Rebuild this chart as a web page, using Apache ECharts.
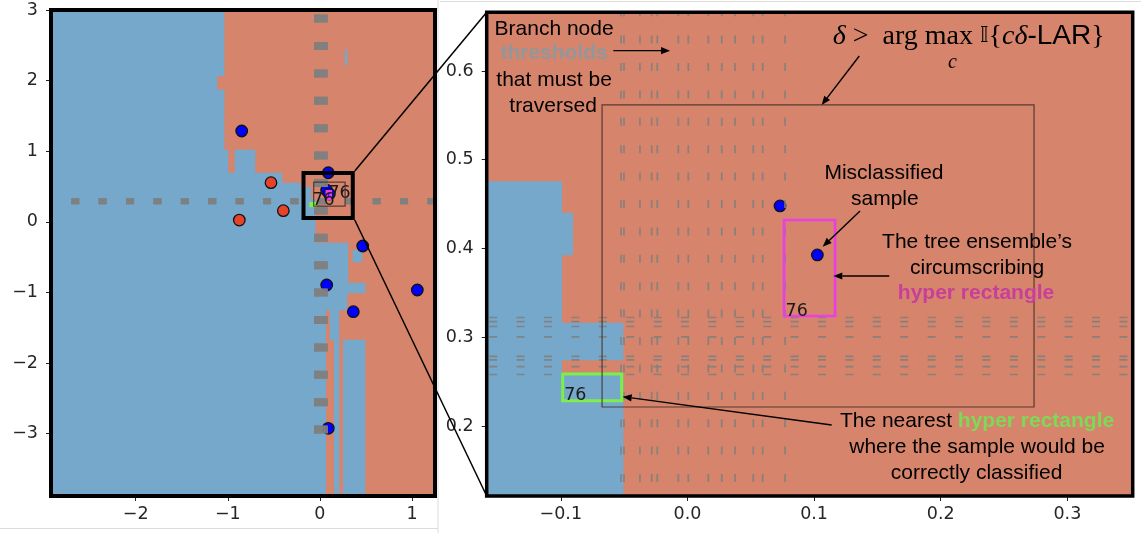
<!DOCTYPE html>
<html>
<head>
<meta charset="utf-8">
<script src="https://cdn.jsdelivr.net/npm/echarts@6.0.0/dist/echarts.min.js"></script>
<style>
html,body{margin:0;padding:0;background:#ffffff;}
#chart{width:1141px;height:533px;}
</style>
</head>
<body>
<div id="chart"></div>
<script>
// ---------------- data ----------------
const leftXTicks = [-2, -1, 0, 1];
const leftYTicks = [-3, -2, -1, 0, 1, 2, 3];
const rightXTicks = [-0.1, 0.0, 0.1, 0.2, 0.3];
const rightYTicks = [0.2, 0.3, 0.4, 0.5, 0.6];

// cells predicted as the blue class, [x0, x1, y0, y1]; the rest is the red class
const leftBlueRegions = [
  [-2.92, -1.117, -3.884, 3.0],
  [-1.117, -1.041, 2.068, 3.0],
  [-1.117, -1.041, -3.884, 1.867],
  [-1.041, -0.998, -3.884, 1.017],
  [-0.922, -0.705, 0.691, 1.017],
  [-1.041, -0.412, -3.884, 0.691],
  [-0.412, -0.216, -3.884, 0.55],
  [-0.216, -0.099, -3.884, 0.493],
  [-0.099, -0.051, 0.274, 0.316],
  [-0.099, -0.051, -3.884, 0.26],
  [-0.051, 0.305, -0.966, -0.3],
  [0.359, 0.457, -0.57, -0.399],
  [-0.051, 0.49, -1.008, -0.867],
  [-0.051, 0.294, -1.249, -1.008],
  [-0.051, 0.063, -3.884, -1.249],
  [0.156, 0.207, -3.884, -1.249],
  [0.11, 0.156, -1.674, -1.249],
  [0.254, 0.49, -3.884, -1.674],
  [0.273, 0.294, 2.221, 2.433]
];
const rightBlueRegions = [
  [-0.1585, -0.0993, 0.1211, 0.4753],
  [-0.0993, -0.0906, 0.3927, 0.44],
  [-0.0993, -0.0508, 0.2744, 0.3161],
  [-0.0993, -0.0508, 0.1211, 0.2597]
];

// branch node thresholds
const thresholdsX = [-0.0524, -0.0501, -0.0375, -0.0282, -0.0238, -0.0072, 0.0007, 0.0165, 0.0271, 0.0376, 0.052, 0.0594, 0.0771];
const thresholdsY = [0.2580, 0.2668, 0.2744, 0.2785, 0.3003, 0.3121, 0.3175, 0.3222];

const blueSamples = [
  [-0.849, 1.286], [0.091, 0.695], [0.0731, 0.4479], [0.1026, 0.3927], [0.465, -0.343],
  [0.074, -0.895], [0.363, -1.273], [1.058, -0.966], [0.091, -2.925]
];
const redSamples = [[-0.531, 0.554], [-0.397, 0.157], [-0.875, 0.025]];

const circumscribingRect = [0.0763, 0.1166, 0.3239, 0.4321];
const nearestRect = [-0.0985, -0.0519, 0.2285, 0.2586];
const deltaRect = [-0.0674, 0.2737, 0.2214, 0.5617];
const zoomBox = [-0.178, 0.357, 0.054, 0.691];
const rectLabel = '76';

// ---------------- layout / styles ----------------
const L = {x: [-2.92, 1.25], y: [-3.884, 3.0]};
const R = {x: [-0.1585, 0.3516], y: [0.1211, 0.6661]};
const BLUE_REGION = '#76a8cb', SALMON = '#d6846b', GRAY = '#808080';
const SANS = 'Liberation Sans', SERIF = 'Liberation Serif';

const annotationTexts = [
  {x: -0.1053, y: 0.6473, text: 'Branch node'},
  {x: -0.1053, y: 0.6199, text: '{g|thresholds}'},
  {x: -0.1053, y: 0.5899, text: 'that must be'},
  {x: -0.1061, y: 0.5606, text: 'traversed'},
  {x: 0.1552, y: 0.4851, text: 'Misclassified'},
  {x: 0.1559, y: 0.4558, text: 'sample'},
  {x: 0.2287, y: 0.4070, text: 'The tree ensemble\u2019s'},
  {x: 0.2287, y: 0.3780, text: 'circumscribing'},
  {x: 0.2279, y: 0.3493, text: '{m|hyper rectangle}'},
  {x: 0.2287, y: 0.2056, text: 'The nearest {gr|hyper rectangle}'},
  {x: 0.2287, y: 0.1763, text: 'where the sample would be'},
  {x: 0.2283, y: 0.1470, text: 'correctly classified'},
  {x: 0.1147, y: 0.6389, text: '{it|\u03b4}{rm| >  arg max }{ds|\ud835\udd40}{rm|{}{it|c\u03b4}{sf|-LAR}}', formula: true},
  {x: 0.2092, y: 0.6096, text: '{its|c}', formula: true, center: true}
];
const annotationArrows = [
  [-0.0585, 0.6229, -0.0137, 0.6229],
  [0.1357, 0.6169, 0.1060, 0.5617],
  [0.1363, 0.4423, 0.1068, 0.4020],
  [0.1594, 0.3690, 0.1152, 0.3690],
  [0.1139, 0.2011, -0.0511, 0.2330]
];

const richText = {
  g: {fill: '#92979b', fontWeight: 'bold', fontFamily: SANS, fontSize: 21},
  m: {fill: '#c83f9b', fontWeight: 'bold', fontFamily: SANS, fontSize: 21},
  gr: {fill: '#7dd957', fontWeight: 'bold', fontFamily: SANS, fontSize: 21},
  it: {fill: '#000', fontStyle: 'italic', fontFamily: SERIF, fontSize: 28},
  its: {fill: '#000', fontStyle: 'italic', fontFamily: SERIF, fontSize: 20},
  rm: {fill: '#000', fontFamily: SERIF, fontSize: 28},
  sf: {fill: '#000', fontFamily: SANS, fontSize: 28},
  ds: {fill: '#000', fontFamily: 'DejaVu Sans', fontSize: 22}
};

const minus = s => s.replace('-', '\u2212');

function makeAxis(kind, idx, ext, ticks, fmt) {
  return {
    type: 'value', gridIndex: idx, min: ext[0], max: ext[1],
    splitLine: {show: false},
    axisLine: {show: false, onZero: false},
    axisTick: {show: true, length: 5, customValues: ticks, lineStyle: {color: '#222', width: 1}},
    axisLabel: {customValues: ticks, formatter: v => minus(fmt(v)), fontSize: 17.5,
      fontFamily: 'DejaVu Sans', color: '#262626', margin: kind === 'x' ? 9 : 13}
  };
}

function regionItem(params, api) {
  const a = api.coord([api.value(0), api.value(3)]);
  const b = api.coord([api.value(1), api.value(2)]);
  return {type: 'rect', shape: {x: a[0] - 0.3, y: a[1] - 0.3, width: b[0] - a[0] + 0.6, height: b[1] - a[1] + 0.6},
    style: {fill: BLUE_REGION}};
}
function vLines(from, to, offset, width) {
  return function (params, api) {
    const a = api.coord([api.value(0), from]);
    const b = api.coord([api.value(0), to]);
    return {type: 'line', shape: {x1: a[0], y1: a[1], x2: b[0], y2: b[1]},
      style: {stroke: GRAY, lineWidth: width, lineDash: [8, 19.4], lineDashOffset: offset, opacity: 0.9}};
  };
}
function hLines(from, to, offset, width) {
  return function (params, api) {
    const a = api.coord([from, api.value(1)]);
    const b = api.coord([to, api.value(1)]);
    return {type: 'line', shape: {x1: a[0], y1: a[1], x2: b[0], y2: b[1]},
      style: {stroke: GRAY, lineWidth: width, lineDash: [8, 19.4], lineDashOffset: offset, opacity: 0.9}};
  };
}
const boxStyles = [
  {stroke: '#ea3fe6', lineWidth: 2.7, label: true},
  {stroke: '#7def47', lineWidth: 3, label: true},
  {stroke: 'rgba(55,40,35,0.8)', lineWidth: 1.2, label: false},
  {stroke: '#000', lineWidth: 4, label: false}
];
function boxItem(params, api) {
  const st = boxStyles[params.dataIndex];
  const a = api.coord([api.value(0), api.value(3)]);
  const b = api.coord([api.value(1), api.value(2)]);
  const children = [{type: 'rect', shape: {x: a[0], y: a[1], width: b[0] - a[0], height: b[1] - a[1]},
    style: {fill: 'none', stroke: st.stroke, lineWidth: st.lineWidth}}];
  if (st.label) {
    children.push({type: 'text', x: a[0] + 1.5, y: b[1] + 4,
      style: {text: rectLabel, fill: '#1a1a1a', fontSize: 17.5, fontFamily: 'DejaVu Sans', align: 'left', verticalAlign: 'bottom'}});
  }
  return {type: 'group', children};
}
function arrowItem(params, api) {
  const a = api.coord([api.value(0), api.value(1)]);
  const b = api.coord([api.value(2), api.value(3)]);
  const ang = Math.atan2(b[1] - a[1], b[0] - a[0]);
  const hl = 9, hw = 3.6;
  const bx = b[0] - hl * Math.cos(ang), by = b[1] - hl * Math.sin(ang);
  const nx = -Math.sin(ang) * hw, ny = Math.cos(ang) * hw;
  return {type: 'group', children: [
    {type: 'line', shape: {x1: a[0], y1: a[1], x2: bx, y2: by}, style: {stroke: '#000', lineWidth: 1.4}},
    {type: 'polygon', shape: {points: [[b[0], b[1]], [bx + nx, by + ny], [bx - nx, by - ny]]}, style: {fill: '#000'}}
  ]};
}
function textItem(params, api) {
  const t = annotationTexts[params.dataIndex];
  const p = api.coord([api.value(0), api.value(1)]);
  return {type: 'text', x: p[0], y: p[1], style: {
    text: t.text, rich: richText,
    fontFamily: t.formula ? SERIF : SANS, fontSize: t.formula ? 28 : 21, fill: '#000',
    align: t.formula && !t.center ? 'left' : 'center', verticalAlign: 'middle'}};
}

function scatter(idx, data, color, z) {
  return {type: 'scatter', xAxisIndex: idx, yAxisIndex: idx, data: data, symbolSize: 11.5, z: z,
    itemStyle: {color: color, borderColor: '#111', borderWidth: 1.3, opacity: 1}, clip: true};
}

const chart = echarts.init(document.getElementById('chart'), null, {renderer: 'canvas'});
const option = {
  animation: false,
  backgroundColor: '#ffffff',
  grid: [
    {left: 51, top: 10, width: 384, height: 486, show: true, backgroundColor: SALMON, borderWidth: 0},
    {left: 486.7, top: 12.3, width: 646, height: 483.7, show: true, backgroundColor: SALMON, borderWidth: 0}
  ],
  xAxis: [
    makeAxis('x', 0, L.x, leftXTicks, v => String(v)),
    makeAxis('x', 1, R.x, rightXTicks, v => v.toFixed(1))
  ],
  yAxis: [
    makeAxis('y', 0, L.y, leftYTicks, v => String(v)),
    makeAxis('y', 1, R.y, rightYTicks, v => v.toFixed(1))
  ],
  series: [
    {type: 'custom', xAxisIndex: 0, yAxisIndex: 0, data: leftBlueRegions, encode: {x: [0, 1], y: [2, 3]}, renderItem: regionItem, clip: true, z: 1, silent: true},
    {type: 'custom', xAxisIndex: 1, yAxisIndex: 1, data: rightBlueRegions, encode: {x: [0, 1], y: [2, 3]}, renderItem: regionItem, clip: true, z: 1, silent: true},
    scatter(0, blueSamples, '#0000ff', 3), scatter(0, redSamples, '#e6432b', 3),
    scatter(1, blueSamples, '#0000ff', 3), scatter(1, redSamples, '#e6432b', 3),
    {type: 'custom', xAxisIndex: 0, yAxisIndex: 0, data: thresholdsX.map(v => [v, 0]), encode: {x: 0, y: 1}, renderItem: vLines(-3, 3, 0, 2), clip: true, z: 4, silent: true},
    {type: 'custom', xAxisIndex: 0, yAxisIndex: 0, data: thresholdsY.map(v => [0, v]), encode: {x: 0, y: 1}, renderItem: hLines(-2.7, 1.3, 0, 2), clip: true, z: 4, silent: true},
    {type: 'custom', xAxisIndex: 1, yAxisIndex: 1, data: thresholdsX.map(v => [v, 0.3]), encode: {x: 0, y: 1}, renderItem: vLines(R.y[0], R.y[1], 13.4, 1.7), clip: true, z: 4, silent: true},
    {type: 'custom', xAxisIndex: 1, yAxisIndex: 1, data: thresholdsY.map(v => [0, v]), encode: {x: 0, y: 1}, renderItem: hLines(R.x[0], R.x[1], 24.9, 1.7), clip: true, z: 4, silent: true},
    {type: 'custom', xAxisIndex: 0, yAxisIndex: 0, data: [circumscribingRect, nearestRect, deltaRect, zoomBox], encode: {x: [0, 1], y: [2, 3]}, renderItem: boxItem, clip: false, z: 5, silent: true},
    {type: 'custom', xAxisIndex: 1, yAxisIndex: 1, data: [circumscribingRect, nearestRect, deltaRect], encode: {x: [0, 1], y: [2, 3]}, renderItem: boxItem, clip: true, z: 5, silent: true},
    {type: 'custom', xAxisIndex: 1, yAxisIndex: 1, data: annotationArrows, encode: {x: [0, 2], y: [1, 3]}, renderItem: arrowItem, clip: false, z: 6, silent: true},
    {type: 'custom', xAxisIndex: 1, yAxisIndex: 1, data: annotationTexts.map(t => [t.x, t.y]), encode: {x: 0, y: 1}, renderItem: textItem, clip: false, z: 6, silent: true}
  ]
};
chart.setOption(option);

// frames, zoom connectors and faint figure borders
const px = (g, pt) => chart.convertToPixel({gridIndex: g}, pt);
const lTL = px(0, [L.x[0], L.y[1]]), lBR = px(0, [L.x[1], L.y[0]]);
const rTL = px(1, [R.x[0], R.y[1]]), rBR = px(1, [R.x[1], R.y[0]]);
const zTR = px(0, [zoomBox[1], zoomBox[3]]), zBR = px(0, [zoomBox[1], zoomBox[2]]);
const faint = {stroke: '#dcdcdc', lineWidth: 1};
chart.setOption({graphic: {elements: [
  {type: 'line', z: 90, shape: {x1: lTL[0], y1: 8.5, x2: 438, y2: 8.5}, style: faint},
  {type: 'line', z: 90, shape: {x1: 438, y1: 0, x2: 438, y2: 533}, style: faint},
  {type: 'line', z: 90, shape: {x1: 0, y1: 528.5, x2: 438, y2: 528.5}, style: faint},
  {type: 'line', z: 90, shape: {x1: 440, y1: 1.5, x2: 1141, y2: 1.5}, style: faint},
  {type: 'rect', z: 100, shape: {x: lTL[0], y: lTL[1], width: lBR[0] - lTL[0], height: lBR[1] - lTL[1]},
    style: {fill: 'none', stroke: '#000', lineWidth: 4}},
  {type: 'rect', z: 100, shape: {x: rTL[0], y: rTL[1], width: rBR[0] - rTL[0], height: rBR[1] - rTL[1]},
    style: {fill: 'none', stroke: '#000', lineWidth: 3.5}},
  {type: 'line', z: 101, shape: {x1: zTR[0] + 2, y1: zTR[1] - 2, x2: rTL[0], y2: rTL[1]}, style: {stroke: '#000', lineWidth: 1.5}},
  {type: 'line', z: 101, shape: {x1: zBR[0] + 2, y1: zBR[1] + 2, x2: rTL[0], y2: rBR[1]}, style: {stroke: '#000', lineWidth: 1.5}}
]}});
</script>
</body>
</html>
